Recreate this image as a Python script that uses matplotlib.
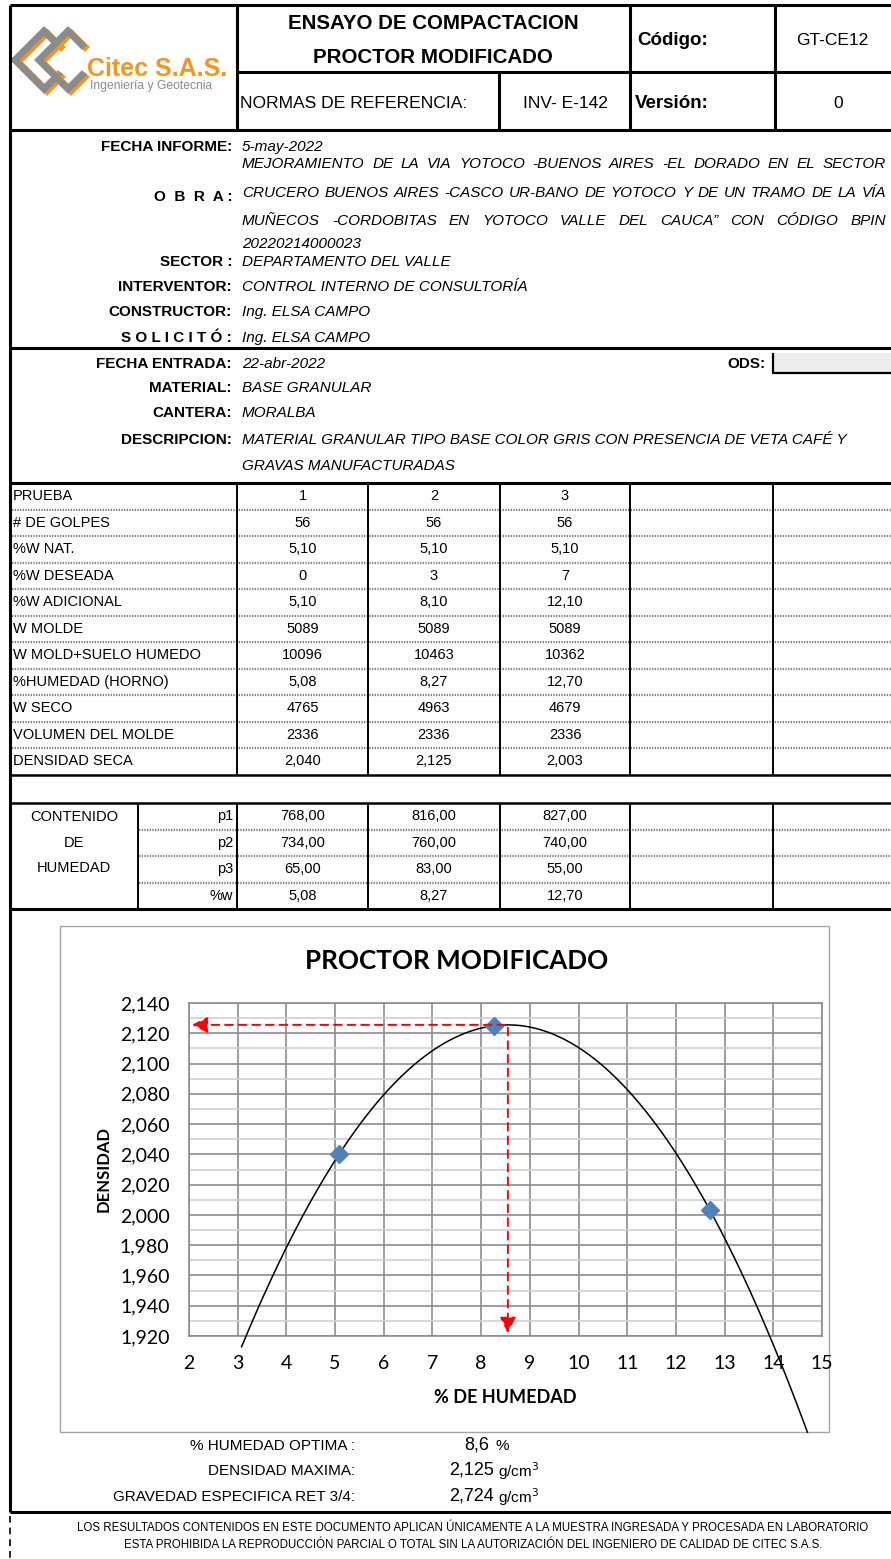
import numpy as np
import matplotlib
matplotlib.use("Agg")
import matplotlib.pyplot as plt
from matplotlib import font_manager
from matplotlib.patches import Rectangle
from matplotlib.ticker import FuncFormatter, MultipleLocator

# =====================================================
# DATOS
# =====================================================
filas = ["PRUEBA", "# DE GOLPES", "%W NAT.", "%W DESEADA", "%W ADICIONAL", "W MOLDE",
         "W MOLD+SUELO HUMEDO", "%HUMEDAD (HORNO)", "W SECO", "VOLUMEN DEL MOLDE", "DENSIDAD SECA"]
prueba = [1, 2, 3]
golpes = [56, 56, 56]
w_nat = [5.10, 5.10, 5.10]
w_deseada = [0, 3, 7]
w_adicional = [5.10, 8.10, 12.10]
w_molde = [5089, 5089, 5089]
w_mold_suelo = [10096, 10463, 10362]
humedad_horno = [5.08, 8.27, 12.70]
w_seco = [4765, 4963, 4679]
volumen_molde = [2336, 2336, 2336]
densidad_seca = [2.040, 2.125, 2.003]

p1 = [768.00, 816.00, 827.00]
p2 = [734.00, 760.00, 740.00]
p3 = [65.00, 83.00, 55.00]
pw = [5.08, 8.27, 12.70]

humedad_optima = 8.6
densidad_maxima = 2.125
gravedad_especifica = 2.724

x_ticks = list(range(2, 16))
y_min, y_max = 1.920, 2.140

# =====================================================
# FUENTES
# =====================================================
disponibles = {f.name for f in font_manager.fontManager.ttflist}
NARROW = "Liberation Sans Narrow" if "Liberation Sans Narrow" in disponibles else "Liberation Sans"
ARIAL = "Liberation Sans"
CHART = "Lato"


def coma(v, dec):
    return f"{v:.{dec}f}".replace(".", ",")


# =====================================================
# FIGURA (eje de fondo en pixeles)
# =====================================================
W, H = 891, 1559
fig = plt.figure(figsize=(W / 100, H / 100), dpi=100)
doc = fig.add_axes([0, 0, 1, 1])
doc.set_xlim(0, W)
doc.set_ylim(H, 0)
doc.axis("off")


def linea(x0, y0, x1, y1, lw=1.2, color="black", ls="-"):
    doc.plot([x0, x1], [y0, y1], color=color, lw=lw, ls=ls, solid_capstyle="butt")


def punteada(x0, x1, y):
    doc.plot([x0, x1], [y, y], color="#7f7f7f", lw=1.6, ls=(0, (0.6, 0.6)))


def txt(x, y, s, size=9, ha="left", bold=False, italic=False, family=NARROW, color="black", **kw):
    return doc.text(x, y, s, fontsize=size, ha=ha, va="center", family=family,
                    fontweight="bold" if bold else "normal",
                    fontstyle="italic" if italic else "normal", color=color, **kw)


# --- logo ---
gris, naranja = "#898b8d", "#f7941d"
for cx in (42, 66):
    xs = np.array([cx + 16, cx + 2, cx - 27, cx + 2, cx + 16])
    ys = np.array([45, 31, 60, 89, 75])
    doc.plot(xs + 3, ys + 2, color=naranja, lw=5, solid_joinstyle="miter")
    doc.plot(xs, ys, color=gris, lw=5, solid_joinstyle="miter")
txt(87, 69, "Citec S.A.S.", size=18, bold=True, family=ARIAL, color=naranja)
txt(90, 86, "Ingeniería y Geotecnia", size=8.7, family=ARIAL, color=gris)

# --- encabezado ---
grueso = 2.2
linea(10, 5, W, 5, grueso)
linea(10, 5, 10, 1512, grueso)
linea(237, 5, 237, 130, grueso)
linea(630, 5, 630, 130, grueso)
linea(775, 5, 775, 130, grueso)
linea(237, 72, W, 72, grueso)
linea(499, 72, 499, 130, grueso)
linea(10, 130, W, 130, grueso)
txt(433, 23, "ENSAYO DE COMPACTACION", size=14.8, ha="center", bold=True, family=ARIAL)
txt(433, 57, "PROCTOR MODIFICADO", size=14.8, ha="center", bold=True, family=ARIAL)
txt(637, 40, "Código:", size=13.5, bold=True, family=ARIAL)
txt(832, 40, "GT-CE12", size=12.5, ha="center", family=ARIAL)
txt(240, 103, "NORMAS DE REFERENCIA:", size=12.6, family=ARIAL)
txt(565, 103, "INV- E-142", size=12.5, ha="center", family=ARIAL)
txt(635, 103, "Versión:", size=13.5, bold=True, family=ARIAL)
txt(838, 103, "0", size=12.5, ha="center", family=ARIAL)

# --- datos de la obra ---
fs_info = 11
etiquetas = [("FECHA INFORME:", 147), ("O  B  R  A :", 197), ("SECTOR :", 262),
             ("INTERVENTOR:", 287), ("CONSTRUCTOR:", 312), ("S O L I C I T Ó :", 338)]
for s, y in etiquetas:
    txt(232, y, s, size=fs_info, ha="right", bold=True)
txt(242, 147, "5-may-2022", size=fs_info, italic=True)
txt(242, 262, "DEPARTAMENTO DEL VALLE", size=fs_info, italic=True)
txt(242, 287, "CONTROL INTERNO DE CONSULTORÍA", size=fs_info, italic=True)
txt(242, 312, "Ing. ELSA CAMPO", size=fs_info, italic=True)
txt(242, 338, "Ing. ELSA CAMPO", size=fs_info, italic=True)

# celda combinada de la obra: el texto justificado queda recortado arriba y abajo
obra = ["MEJORAMIENTO DE LA VIA YOTOCO -BUENOS AIRES -EL DORADO EN EL SECTOR",
        "CRUCERO BUENOS AIRES -CASCO UR-BANO DE YOTOCO Y DE UN TRAMO DE LA VÍA",
        "MUÑECOS -CORDOBITAS EN YOTOCO VALLE DEL CAUCA\u201d CON CÓDIGO BPIN"]
clip = Rectangle((0, 160.5), W, 86.5, transform=doc.transData)
renderer = fig.canvas.get_renderer()
for linea_obra, y in zip(obra, [164, 193, 221]):
    palabras = linea_obra.split(" ")
    objs = [txt(0, y, p, size=fs_info, italic=True) for p in palabras]
    anchos = [o.get_window_extent(renderer).width for o in objs]
    hueco = (886 - 242 - sum(anchos)) / (len(palabras) - 1)
    x = 242
    for o, a in zip(objs, anchos):
        o.set_x(x)
        o.set_clip_path(clip)
        x += a + hueco
t = txt(242, 244, "20220214000023", size=fs_info, italic=True)
t.set_clip_path(clip)

linea(10, 348, W, 348, grueso)
etiquetas2 = [("FECHA ENTRADA:", 364), ("MATERIAL:", 388), ("CANTERA:", 413), ("DESCRIPCION:", 440)]
for s, y in etiquetas2:
    txt(232, y, s, size=fs_info, ha="right", bold=True)
txt(242, 364, "22-abr-2022", size=fs_info, italic=True)
txt(242, 388, "BASE GRANULAR", size=fs_info, italic=True)
txt(242, 413, "MORALBA", size=fs_info, italic=True)
txt(242, 440, "MATERIAL GRANULAR TIPO BASE COLOR GRIS CON PRESENCIA DE VETA CAFÉ Y", size=fs_info, italic=True)
txt(242, 466, "GRAVAS MANUFACTURADAS", size=fs_info, italic=True)
txt(766, 364, "ODS:", size=fs_info, ha="right", bold=True)
doc.add_patch(Rectangle((773, 353), W - 773, 20, facecolor="#ececec", edgecolor="none"))
linea(773, 353, 773, 374, 1.6)
linea(773, 373, W, 373, 1.6)

# --- tabla principal ---
linea(10, 483, W, 483, grueso)
y0, alto = 483, 26.5
cols = [237, 368, 500, 630, 773]
centros = [302.5, 434, 565]
valores = [[str(v) for v in prueba], [str(v) for v in golpes], [coma(v, 2) for v in w_nat],
           [str(v) for v in w_deseada], [coma(v, 2) for v in w_adicional], [str(v) for v in w_molde],
           [str(v) for v in w_mold_suelo], [coma(v, 2) for v in humedad_horno], [str(v) for v in w_seco],
           [str(v) for v in volumen_molde], [coma(v, 3) for v in densidad_seca]]
fs_tab = 10.5
for i, (nombre, fila) in enumerate(zip(filas, valores)):
    yc = y0 + alto * (i + 0.5)
    txt(13, yc, nombre, size=fs_tab)
    for xc, s in zip(centros, fila):
        txt(xc, yc, s, size=fs_tab, ha="center")
    if i > 0:
        punteada(12, W, y0 + alto * i)
y_fin = y0 + alto * len(filas)
for c in cols:
    linea(c, y0, c, y_fin, 1.4)
linea(10, y_fin, W, y_fin, 1.8)

# --- contenido de humedad ---
y1 = 803
linea(10, y1, W, y1, 1.8)
for s, y in [("CONTENIDO", 817), ("DE", 843), ("HUMEDAD", 868)]:
    txt(74, y, s, size=fs_tab, ha="center")
h_filas = [("p1", p1), ("p2", p2), ("p3", p3), ("%w", pw)]
for i, (nombre, fila) in enumerate(h_filas):
    yc = y1 + alto * (i + 0.5)
    txt(233, yc, nombre, size=fs_tab, ha="right")
    for xc, v in zip(centros, fila):
        txt(xc, yc, coma(v, 2), size=fs_tab, ha="center")
    if i > 0:
        punteada(139, W, y1 + alto * i)
y2 = y1 + alto * 4
for c in [138] + cols:
    linea(c, y1, c, y2, 1.4)
linea(10, y2, W, y2, grueso)

# --- marco del grafico ---
doc.add_patch(Rectangle((60, 926), 769, 506, facecolor="white", edgecolor="#a6a6a6", lw=1))
doc.text(457, 961, "PROCTOR MODIFICADO", fontsize=18.7, ha="center", va="center",
         family=CHART, fontweight="bold")

# =====================================================
# GRAFICO
# =====================================================
izq, der, arriba, abajo = 189, 822, 1003, 1336
ax = fig.add_axes([izq / W, 1 - abajo / H, (der - izq) / W, (abajo - arriba) / H])
ax.set_facecolor("none")
ax.set_xlim(x_ticks[0], x_ticks[-1])
ax.set_ylim(y_min, y_max)
ax.xaxis.set_major_locator(MultipleLocator(1))
ax.yaxis.set_major_locator(MultipleLocator(0.02))
ax.yaxis.set_minor_locator(MultipleLocator(0.01))
ax.yaxis.set_major_formatter(FuncFormatter(lambda v, p: coma(v, 3)))
ax.grid(which="major", color="#8c8c8c", lw=1.2)
ax.grid(which="minor", axis="y", color="#d0d0d0", lw=1.2)
ax.set_axisbelow(True)
for s in ax.spines.values():
    s.set_color("#8c8c8c")
    s.set_linewidth(1.2)
ax.tick_params(which="both", length=0)
ax.tick_params(axis="y", pad=14)
ax.tick_params(axis="x", pad=14)
for lab in ax.get_xticklabels() + ax.get_yticklabels():
    lab.set_family(CHART)
    lab.set_fontsize(14)
ax.set_xlabel("% DE HUMEDAD", family=CHART, fontweight="bold", fontsize=13, labelpad=12)
ax.set_ylabel("DENSIDAD", family=CHART, fontweight="bold", fontsize=12, labelpad=6)

# linea de tendencia polinomica (orden 2), extendida 2 unidades a cada lado
coef = np.polyfit(humedad_horno, densidad_seca, 2)
xs = np.linspace(min(humedad_horno) - 2, max(humedad_horno) + 2, 300)
ax.plot(xs, np.polyval(coef, xs), color="black", lw=1.1, clip_on=False, zorder=3)
ax.plot(humedad_horno, densidad_seca, ls="none", marker="D", markersize=9,
        color="#4f81bd", zorder=4)

# flechas del optimo
xv = -coef[1] / (2 * coef[0])
yv = np.polyval(coef, xv)
flecha = dict(arrowstyle="-|>", color="red", lw=1.4, linestyle=(0, (4, 3)), mutation_scale=24)
ax.annotate("", xy=(x_ticks[0], yv), xytext=(xv, yv), arrowprops=flecha, zorder=5)
ax.annotate("", xy=(xv, y_min), xytext=(xv, yv), arrowprops=flecha, zorder=5)

# --- resultados ---
fs_res = 11
txt(355, 1446, "% HUMEDAD OPTIMA :", size=fs_res, ha="right")
txt(355, 1471, "DENSIDAD MAXIMA:", size=fs_res, ha="right")
txt(355, 1497, "GRAVEDAD ESPECIFICA RET 3/4:", size=fs_res, ha="right")
txt(489, 1445, coma(humedad_optima, 1), size=13, ha="right")
txt(496, 1446, "%", size=fs_res)
txt(494, 1470, coma(densidad_maxima, 3), size=13, ha="right")
txt(498, 1471, "g/cm$^3$", size=fs_res)
txt(494, 1496, coma(gravedad_especifica, 3), size=13, ha="right")
txt(498, 1497, "g/cm$^3$", size=fs_res)

linea(10, 1512, W, 1512, grueso)
linea(10, 1516, 10, H, 1.2, ls=(0, (4, 3)))
txt(473, 1528, "LOS RESULTADOS CONTENIDOS EN ESTE DOCUMENTO APLICAN ÚNICAMENTE A LA MUESTRA INGRESADA Y PROCESADA EN LABORATORIO",
    size=8.3, ha="center")
txt(473, 1545, "ESTA PROHIBIDA LA REPRODUCCIÓN PARCIAL O TOTAL SIN LA AUTORIZACIÓN DEL INGENIERO DE CALIDAD DE CITEC S.A.S.",
    size=8.3, ha="center")

fig.savefig("out.png", dpi=100)
